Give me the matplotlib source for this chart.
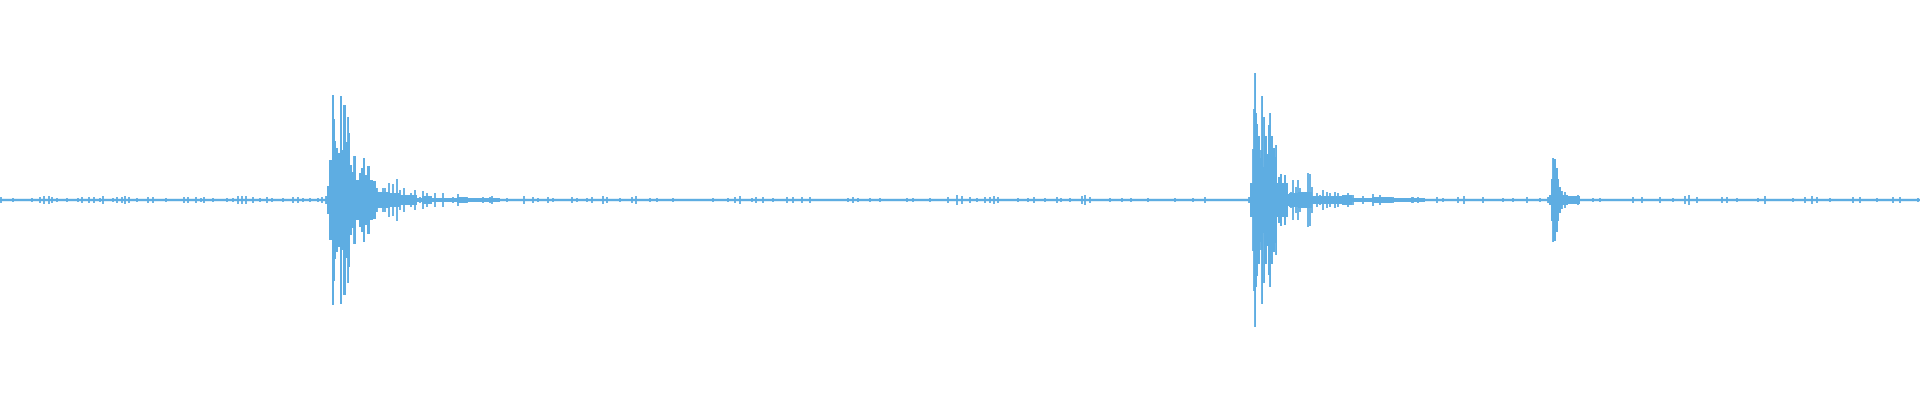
"""Waveform strip: three knocks on a quiet recording"""
import matplotlib
matplotlib.use('Agg')
import matplotlib.pyplot as plt

# time in display columns (0..1920), amplitude in levels (+-200 full scale)
burst1_t = [326, 328, 330, 333, 334, 335, 337, 339, 341, 342, 344, 347, 348, 349,
            351, 353, 354, 357, 360, 362, 364, 366, 368, 371, 374, 377, 378, 380,
            383, 385, 389, 393, 397, 400, 404, 407, 411, 415, 420, 423, 427, 435,
            443, 453, 458, 467, 483, 492]
burst1_amp = [4, 14, 40, 105, 81, 59, 52, 47, 104, 50, 95, 58, 83, 67,
              35, 28, 44, 20, 27, 32, 42, 25, 34, 20, 19, 12, 7, 7,
              12, 12, 17, 16, 21, 10, 12, 5, 7, 10, 3, 9, 7, 7,
              7, 3, 6, 3, 3, 4]

burst2_t = [1249, 1251, 1252, 1253, 1254, 1255, 1256, 1257, 1259, 1260, 1261, 1262,
            1263, 1264, 1266, 1267, 1269, 1270, 1272, 1274, 1275, 1276, 1277, 1279,
            1281, 1283, 1285, 1287, 1289, 1291, 1293, 1296, 1298, 1300, 1303, 1306,
            1308, 1310, 1312, 1315, 1317, 1320, 1323, 1327, 1330, 1335, 1338, 1343,
            1348, 1353, 1363, 1373, 1380, 1393, 1413]
burst2_amp = [3, 17, 17, 51, 91, 127, 87, 76, 64, 42, 50, 104,
              33, 83, 64, 46, 75, 87, 64, 52, 43, 55, 17, 23,
              26, 17, 25, 17, 6, 8, 20, 13, 20, 12, 3, 7,
              27, 26, 13, 3, 7, 5, 10, 8, 7, 8, 7, 5,
              7, 5, 4, 6, 5, 3, 3]

burst3_t = [1548, 1550, 1552, 1553, 1555, 1557, 1558, 1560, 1562, 1565, 1568, 1572, 1578]
burst3_amp = [3, 5, 21, 42, 41, 32, 21, 13, 9, 8, 3, 4, 5]

# where each knock stops ringing as a solid body
burst_body_end = [377, 1289, 1562]

# dense ringing core after each body (segment starts, level held to the next start)
tail1_t = [377, 390, 400, 417, 422, 432, 457, 467, 500]
tail1_amp = [8, 7, 5, 2, 4, 2, 3, 2, 2]
tail2_t = [1289, 1298, 1312, 1342, 1352, 1372, 1392, 1425]
tail2_amp = [7, 8, 4, 5, 2, 3, 2, 2]
tail3_t = [1562, 1568, 1580]
tail3_amp = [5, 4, 4]

# small blips in the room noise between the knocks
noise_t = [1, 13, 32, 40, 44, 49, 52, 57, 67, 78, 82, 89, 94, 100, 103, 113, 117,
           122, 125, 129, 137, 148, 153, 166, 184, 188, 196, 201, 204, 213, 227,
           233, 238, 242, 246, 253, 260, 267, 272, 283, 293, 298, 303, 310, 318,
           322, 490, 495, 507, 524, 533, 538, 548, 553, 572, 577, 587, 592, 603,
           607, 620, 632, 636, 650, 657, 673, 697, 713, 728, 735, 740, 752, 756,
           763, 773, 787, 793, 802, 810, 827, 848, 853, 858, 870, 880, 893, 907,
           913, 930, 948, 957, 962, 970, 977, 985, 990, 994, 998, 1018, 1028,
           1034, 1045, 1057, 1061, 1070, 1082, 1085, 1090, 1110, 1122, 1131, 1148,
           1162, 1175, 1193, 1205, 1215, 1235, 1412, 1418, 1437, 1443, 1458, 1464,
           1483, 1503, 1513, 1527, 1540, 1593, 1600, 1613, 1633, 1642, 1660, 1673,
           1685, 1689, 1697, 1722, 1727, 1737, 1758, 1765, 1783, 1793, 1805, 1812,
           1817, 1830, 1853, 1860, 1877, 1893, 1900, 1918]
noise_amp = [3, 2, 2, 3, 4, 4, 3, 2, 2, 2, 3, 3, 3, 2, 4, 2, 3,
             3, 4, 3, 2, 3, 3, 2, 3, 3, 3, 2, 3, 2, 2,
             2, 4, 4, 4, 3, 2, 3, 2, 2, 3, 3, 2, 2, 2,
             3, 3, 2, 2, 4, 3, 2, 3, 2, 3, 2, 2, 3, 4,
             3, 2, 3, 4, 2, 2, 2, 1, 2, 2, 3, 4, 2, 3,
             3, 2, 3, 3, 3, 3, 1, 2, 3, 2, 2, 2, 1, 2,
             2, 2, 3, 5, 4, 3, 2, 3, 3, 4, 3, 2, 2,
             3, 2, 3, 2, 2, 4, 5, 3, 2, 2, 2, 2,
             1, 2, 2, 3, 1, 1, 3, 3, 3, 2, 3, 4,
             3, 2, 2, 3, 2, 2, 2, 1, 3, 3, 3, 2,
             4, 5, 3, 3, 3, 2, 2, 4, 1, 2, 3, 4,
             3, 2, 3, 3, 2, 3, 3, 2]

wave_color = '#5eade2'

fig = plt.figure(figsize=(19.2, 4), dpi=100)
ax = fig.add_axes([0, 0, 1, 1])

# silent baseline
ax.axhline(0, color=wave_color, linewidth=1.7)

# background blips
ax.vlines(noise_t, [-a for a in noise_amp], noise_amp, color=wave_color, linewidth=1.3)

# ringing cores after the knocks
for t, amp in [(tail1_t, tail1_amp), (tail2_t, tail2_amp), (tail3_t, tail3_amp)]:
    ax.fill_between(t, [-a for a in amp], amp, step='post', color=wave_color, linewidth=0)

# the three knocks: solid body while ringing, then single peaks
bursts = [(burst1_t, burst1_amp), (burst2_t, burst2_amp), (burst3_t, burst3_amp)]
for (t, amp), end in zip(bursts, burst_body_end):
    body_t = [x for x in t if x <= end]
    body_amp = amp[:len(body_t)]
    ax.fill_between(body_t, [-a for a in body_amp], body_amp, step='mid',
                    color=wave_color, linewidth=0)
    ax.vlines(t, [-a for a in amp], amp, color=wave_color, linewidth=1.3)

ax.set_xlim(0, 1920)
ax.set_ylim(-200, 200)
ax.axis('off')

plt.savefig('out.png', dpi=100, facecolor='white')
